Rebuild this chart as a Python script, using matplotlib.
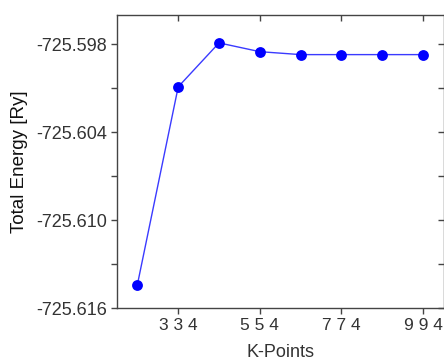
import matplotlib
matplotlib.use("Agg")
import matplotlib.pyplot as plt
from matplotlib.ticker import MultipleLocator

# k-point meshes (first index) and total energies
kpoint_index = [2, 3, 4, 5, 6, 7, 8, 9]
total_energy = [-725.6144, -725.6009, -725.5979, -725.5985,
                -725.5987, -725.5987, -725.5987, -725.5987]
tick_pos = [3, 5, 7, 9]
tick_labels = ["3 3 4", "5 5 4", "7 7 4", "9 9 4"]
y_ticks = [-725.616, -725.610, -725.604, -725.598]

plt.rcParams['font.family'] = ['Liberation Sans', 'DejaVu Sans']

fig = plt.figure(figsize=(4.44, 3.63), dpi=100)
ax = fig.add_axes([0.2635, 0.1515, 0.7354, 0.807])

ax.plot(kpoint_index, total_energy, color='#3a3aff', linewidth=1.0, zorder=2)
ax.plot(kpoint_index, total_energy, 'o', color='#0000ff', markersize=7.8,
        markeredgewidth=0, zorder=3)

ax.set_xlim(1.5, 9.5)
ax.set_ylim(-725.616, -725.596)
ax.set_xticks(tick_pos)
ax.set_xticklabels(tick_labels)
ax.set_yticks(y_ticks)
ax.set_yticklabels([f"{v:.3f}" for v in y_ticks])
ax.yaxis.set_minor_locator(MultipleLocator(0.003))

for s in ax.spines.values():
    s.set_color('#444444')
    s.set_linewidth(1.0)

ax.tick_params(axis='both', which='both', colors='#444444', labelcolor='#333333',
               labelsize=13, length=4, width=1.0)
ax.tick_params(axis='y', which='both', direction='out', right=True, pad=3)
ax.tick_params(axis='x', which='both', direction='out', top=True, pad=3)
ax.tick_params(axis='x', which='major', labelsize=12.5)

# top/right ticks point inward
for t in ax.xaxis.get_major_ticks():
    t.tick2line.set_marker(matplotlib.lines.TICKDOWN)
for t in ax.yaxis.get_major_ticks() + ax.yaxis.get_minor_ticks():
    t.tick2line.set_marker(matplotlib.lines.TICKLEFT)

ax.set_xlabel("K-Points", fontsize=13, color='#333333', labelpad=8)
ax.set_ylabel("Total Energy [Ry]", fontsize=13.5, color='#111111', labelpad=6)

fig.savefig("out.png", dpi=100)
